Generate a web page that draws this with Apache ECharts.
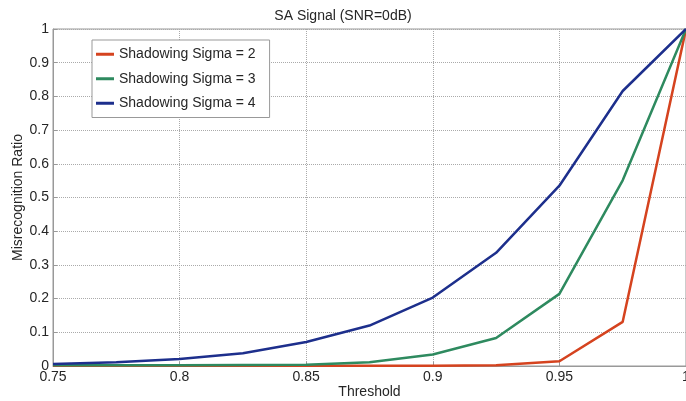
<!DOCTYPE html>
<html>
<head>
<meta charset="utf-8">
<script src="https://cdn.jsdelivr.net/npm/echarts@6/dist/echarts.min.js"></script>
<style>
html,body{margin:0;padding:0;background:#fff;}
#chart{width:686px;height:401px;}
</style>
</head>
<body>
<div id="chart"></div>
<script>
var thresholds = [0.75, 0.775, 0.8, 0.825, 0.85, 0.875, 0.9, 0.925, 0.95, 0.975, 1.0];
var sigma2 = [0.001, 0.001, 0.001, 0.001, 0.001, 0.001, 0.001, 0.002, 0.014, 0.131, 1.0];
var sigma3 = [0.002, 0.002, 0.002, 0.003, 0.004, 0.011, 0.034, 0.083, 0.214, 0.551, 1.0];
var sigma4 = [0.006, 0.011, 0.021, 0.038, 0.071, 0.12, 0.203, 0.336, 0.535, 0.816, 1.0];
var seriesNames = ['Shadowing Sigma = 2', 'Shadowing Sigma = 3', 'Shadowing Sigma = 4'];
var colors = ['#d5431f', '#2e8a5f', '#1d2f8c'];
var xTicks = [0.75, 0.8, 0.85, 0.9, 0.95, 1];
var titleText = 'SA Signal (SNR=0dB)';

function pairs(ys) { return thresholds.map(function (x, i) { return [x, ys[i]]; }); }
var allY = [sigma2, sigma3, sigma4];
var font = 'Liberation Sans, Arial, Helvetica, sans-serif';
var txt = '#262626';

var chart = echarts.init(document.getElementById('chart'), null, {renderer: 'canvas'});
chart.setOption({
  animation: false,
  backgroundColor: '#ffffff',
  title: {
    text: titleText, left: 'center', top: 4,
    textStyle: {fontFamily: font, fontSize: 14, fontWeight: 'normal', color: txt}
  },
  grid: {left: 53, right: 0, top: 29, bottom: 35, show: true, borderColor: '#999', borderWidth: 1,
    backgroundColor: 'transparent', containLabel: false, outerBoundsMode: 'none'},
  legend: {
    orient: 'vertical', left: 92, top: 40,
    padding: [7, 14, 7, 4],
    itemGap: 10, itemWidth: 18, itemHeight: 3,
    icon: 'rect',
    backgroundColor: '#fff', borderColor: '#999', borderWidth: 1,
    textStyle: {fontFamily: font, fontSize: 14, color: txt, lineHeight: 14.5},
    data: seriesNames
  },
  xAxis: {
    type: 'value', min: 0.75, max: 1, interval: 0.05,
    name: 'Threshold', nameLocation: 'middle', nameGap: 19, nameMoveOverlap: false,
    nameTextStyle: {fontFamily: font, fontSize: 14, color: txt},
    axisLine: {lineStyle: {color: '#999'}},
    axisTick: {inside: true, length: 4, lineStyle: {color: '#999'}},
    axisLabel: {fontFamily: font, fontSize: 14, color: txt, margin: 4, hideOverlap: false,
      formatter: function (v) { var t = xTicks.filter(function (k) { return Math.abs(k - v) < 1e-9; }); return t.length ? String(t[0]) : ''; }},
    splitLine: {show: true, lineStyle: {type: 'dotted', color: '#aaa', width: 1}}
  },
  yAxis: {
    type: 'value', min: 0, max: 1, interval: 0.1,
    name: 'Misrecognition Ratio', nameLocation: 'middle', nameGap: 28, nameMoveOverlap: false,
    nameTextStyle: {fontFamily: font, fontSize: 14, color: txt},
    axisLine: {show: true, lineStyle: {color: '#999'}},
    axisTick: {show: true, inside: true, length: 4, lineStyle: {color: '#999'}},
    axisLabel: {fontFamily: font, fontSize: 14, color: txt, margin: 4,
      formatter: function (v) { return String(Math.round(v * 10) / 10); }},
    splitLine: {show: true, lineStyle: {type: 'dotted', color: '#aaa', width: 1}}
  },
  series: seriesNames.map(function (n, i) {
    return {
      name: n, type: 'line', data: pairs(allY[i]),
      showSymbol: false, symbol: 'none', smooth: false,
      lineStyle: {color: colors[i], width: 2.5},
      itemStyle: {color: colors[i]},
      z: 2 + i
    };
  })
});
</script>
</body>
</html>
